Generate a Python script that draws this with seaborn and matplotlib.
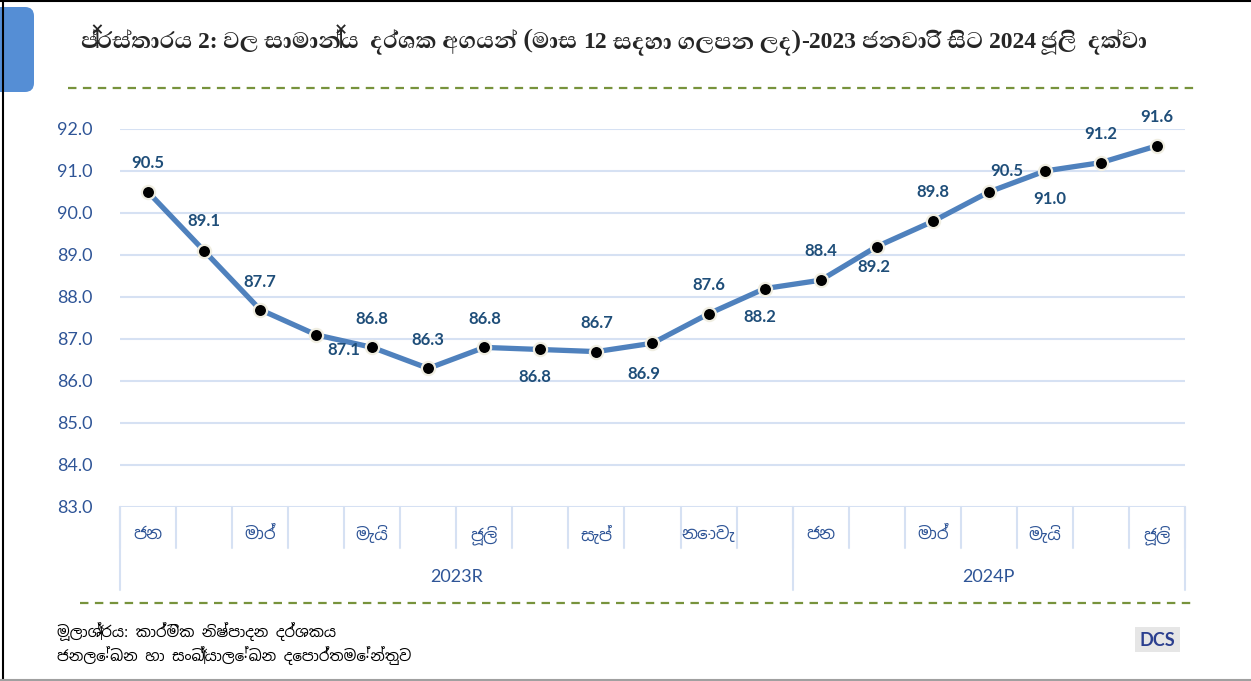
import numpy as np
import pandas as pd
import matplotlib
matplotlib.use("Agg")
import matplotlib.pyplot as plt
import seaborn as sns
from matplotlib.lines import Line2D
from matplotlib.patches import FancyBboxPatch, Rectangle
from matplotlib.transforms import blended_transform_factory

# data: monthly index values, Jan 2023 - Jul 2024
values = [90.5, 89.1, 87.7, 87.1, 86.8, 86.3, 86.8, 86.75, 86.7, 86.9, 87.6, 88.2,
          88.4, 89.2, 89.8, 90.5, 91.0, 91.2, 91.6]
value_labels = ["90.5", "89.1", "87.7", "87.1", "86.8", "86.3", "86.8", "86.8", "86.7", "86.9",
                "87.6", "88.2", "88.4", "89.2", "89.8", "90.5", "91.0", "91.2", "91.6"]
month_labels = ["ජන", "", "මාර්", "", "මැයි", "", "ජූලි", "", "සැප්", "", "නොවැ", "",
                "ජන", "", "මාර්", "", "මැයි", "", "ජූලි"]
years = ["2023R", "2024P"]
year_counts = [12, 7]
yticks = [83.0, 84.0, 85.0, 86.0, 87.0, 88.0, 89.0, 90.0, 91.0, 92.0]

title_runs = [("ප්‍රස්තාරය", False), ("2:", True), ("වල සාමාන්‍ය  දර්ශක අගයන්", False),
              ("(මාස", False), ("12", True), ("සදහා ගලපන ලද)", False), ("-2023", True),
              ("ජනවාරි සිට", False), ("2024", True), ("ජූලි  දක්වා", False)]
source_lines = ["මූලාශ්‍රය: කාර්මික නිෂ්පාදන දර්ශකය",
                "ජනලේඛන හා සංඛ්‍යාලේඛන දෙපාර්තමේන්තුව"]

# label offsets in pixels (dx, dy up)
label_offsets = [(0, 29), (0, 30), (0, 28), (28, -15), (0, 28), (0, 28), (0, 28), (-6, -28),
                 (0, 29), (-9, -31), (0, 29), (-5, -28), (0, 29), (-3, -20), (0, 29),
                 (18, 21), (5, -28), (0, 29), (0, 29)]

W, H = 1251, 681
LINE = "#4F81BD"
LABEL = "#1F4E79"
TICK = "#2F5597"
GRID = "#D6E1F3"
NUM_FONT = ["Lato", "DejaVu Sans"]
SIN_FONT = ["Noto Sans Sinhala", "DejaVu Sans"]
TITLE_SIN = ["Abhaya Libre", "Liberation Serif"]
TITLE_NUM = ["Liberation Serif", "Abhaya Libre"]

df = pd.DataFrame({"pos": np.arange(len(values)), "value": values})

sns.set_style("white")
plt.rcParams["font.family"] = NUM_FONT
fig = plt.figure(figsize=(W/100, H/100), dpi=100)

def inch(x, y):
    return (x/100, (H - y)/100)

ax = fig.add_axes([120/W, 1-507/H, 1065/W, 378/H])
sns.lineplot(data=df, x="pos", y="value", ax=ax, color=LINE, lw=3.8,
             marker="o", markersize=9.5, markerfacecolor="black",
             markeredgecolor="#F0EEE2", markeredgewidth=1.6, zorder=3)
ax.set_xlim(-0.5, len(values)-0.5)
ax.set_ylim(83, 92)
ax.set_yticks(yticks)
ax.set_yticklabels([f"{v:.1f}" for v in yticks], color=TICK, fontsize=13)
ax.tick_params(axis="y", length=0, pad=20)
ax.set_xticks([])
ax.set_xlabel("")
ax.set_ylabel("")
for s in ax.spines.values():
    s.set_visible(False)
for v in yticks:
    ax.axhline(v, color=GRID, lw=1.5, zorder=0)

# data labels
for i, (v, lab) in enumerate(zip(values, value_labels)):
    dx, dy = label_offsets[i]
    ax.annotate(lab, (i, v), xytext=(dx, dy), textcoords="offset pixels",
                ha="center", va="center", fontsize=12, fontweight="bold",
                color=LABEL, annotation_clip=False)

# multi-level category axis
trans = blended_transform_factory(ax.transData, ax.transAxes)
ax_h = 378
for k in range(len(values) + 1):
    ax.plot([k - 0.5, k - 0.5], [0, -41/ax_h], transform=trans, color=GRID,
            lw=1.5, clip_on=False)
for i, m in enumerate(month_labels):
    if m:
        ax.text(i, -28/ax_h, m, transform=trans, ha="center", va="center",
                fontsize=12, color=TICK, family=SIN_FONT)
start = 0
bounds = [0]
for y, n in zip(years, year_counts):
    ax.text(start + (n - 1)/2, -70/ax_h, y, transform=trans, ha="center", va="center",
            fontsize=13, color=TICK)
    start += n
    bounds.append(start)
for b in bounds:
    ax.plot([b - 0.5, b - 0.5], [0, -83/ax_h], transform=trans, color=GRID,
            lw=1.5, clip_on=False)

# frame and decorations
T = fig.dpi_scale_trans
fig.add_artist(Line2D([0.03, 0.03], [0, H/100], transform=T, color="black", lw=1.5))
fig.add_artist(Line2D([0, W/100], [H/100 - 0.005, H/100 - 0.005], transform=T, color="black", lw=1.5))
fig.add_artist(Line2D([0, W/100], [0.015, 0.015], transform=T, color="#A0A0A0", lw=1.5))
fig.add_artist(FancyBboxPatch(inch(-10, 92), 0.44, 0.85, transform=T,
                              boxstyle="round,pad=0,rounding_size=0.09",
                              fc="#558ED5", ec="none"))
for y0, x0 in [(88, 68), (603, 80)]:
    fig.add_artist(Line2D([x0/100, 11.95], [(H - y0)/100]*2, transform=T,
                          color="#77933C", lw=1.6, dashes=(3.8, 2.9)))

# title with mixed weights, fitted to the reference width
fig.canvas.draw()
r = fig.canvas.get_renderer()

def draw_title(size):
    sin_size = size * 1.25
    p1 = fig.text(0, 0, "ක ක", fontsize=sin_size, family=TITLE_SIN)
    p2 = fig.text(0, 0, "කක", fontsize=sin_size, family=TITLE_SIN)
    gap = p1.get_window_extent(r).width - p2.get_window_extent(r).width
    p1.remove()
    p2.remove()
    x = 80
    made = []
    for i, (s, bold) in enumerate(title_runs):
        if bold:
            t = fig.text(x/W, 1 - 48/H, s, fontsize=size, fontweight="bold",
                         va="baseline", family=TITLE_NUM)
        else:
            t = fig.text(x/W, 1 - 48/H, s, fontsize=sin_size, fontweight="semibold",
                         va="baseline", family=TITLE_SIN)
        made.append(t)
        x += t.get_window_extent(r).width
        nxt = title_runs[i + 1][0] if i + 1 < len(title_runs) else ""
        if not nxt.startswith("-"):
            x += gap
    return made, x - gap - 80

made, width = draw_title(16)
for t in made:
    t.remove()
draw_title(16 * 1065 / width)

# source
for j, line in enumerate(source_lines):
    fig.text(57/W, 1 - (632 + 24*j)/H, line, fontsize=10.8,
             va="center", family=SIN_FONT, color="black")

# DCS logo
fig.add_artist(Rectangle(inch(1135, 652), 0.45, 0.25, transform=T, fc="#E6E6E6", ec="none"))
fig.text(1157/W, 1 - 641/H, "DCS", fontsize=13, fontweight="bold", color="#2B3F8F",
         ha="center", va="center", family=["Lato", "DejaVu Sans"])

fig.savefig("out.png", dpi=100)
